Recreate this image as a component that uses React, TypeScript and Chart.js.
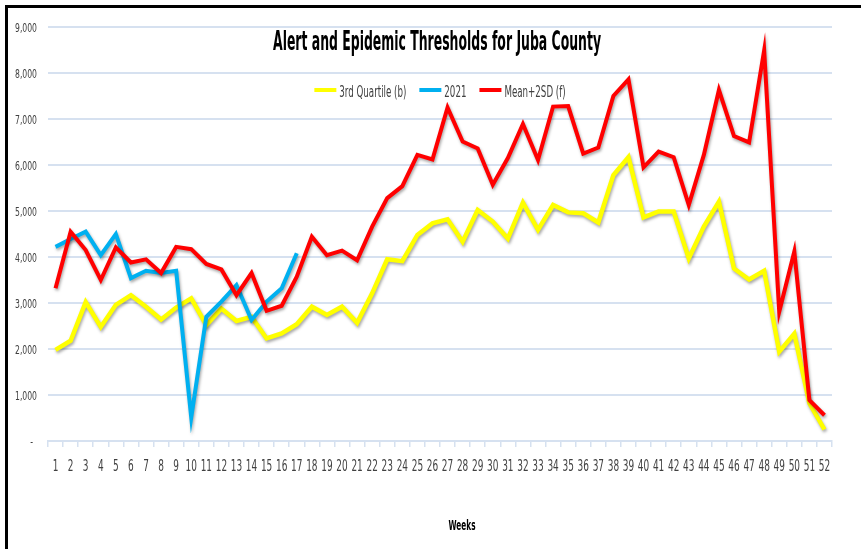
import React, { useEffect, useRef } from "react";
import { Chart, registerables } from "chart.js";

Chart.register(...registerables);

const weeks = [
  "1", "2", "3", "4", "5", "6", "7", "8", "9", "10", "11", "12", "13",
  "14", "15", "16", "17", "18", "19", "20", "21", "22", "23", "24", "25", "26",
  "27", "28", "29", "30", "31", "32", "33", "34", "35", "36", "37", "38", "39",
  "40", "41", "42", "43", "44", "45", "46", "47", "48", "49", "50", "51", "52",
];

const thirdQuartile = [
  1980, 2180, 3020, 2480, 2960, 3170, 2920, 2640, 2900, 3100, 2520, 2880, 2610,
  2700, 2230, 2340, 2540, 2920, 2740, 2920, 2570, 3210, 3950, 3910, 4480, 4730,
  4820, 4330, 5020, 4770, 4400, 5180, 4590, 5130, 4970, 4950, 4750, 5780, 6170,
  4860, 4990, 4990, 3970, 4660, 5200, 3750, 3510, 3700, 1940, 2330, 820, 250,
];

const year2021 = [
  4220, 4390, 4550, 4040, 4500, 3540, 3700, 3650, 3700, 510, 2700, 3030, 3390,
  2630, 3030, 3320, 4080,
];

const meanPlus2SD = [
  3320, 4550, 4150, 3500, 4210, 3880, 3950, 3650, 4220, 4170, 3850, 3730, 3170,
  3650, 2830, 2940, 3570, 4440, 4040, 4140, 3930, 4660, 5280, 5540, 6220, 6120,
  7250, 6510, 6360, 5570, 6150, 6890, 6110, 7270, 7280, 6250, 6380, 7500, 7860,
  5950, 6290, 6170, 5130, 6220, 7630, 6630, 6490, 8490, 2810, 4120, 890, 560,
];

const yTicks = [0, 1000, 2000, 3000, 4000, 5000, 6000, 7000, 8000, 9000];

const seriesNames = ["3rd Quartile (b)", "2021", "Mean+2SD (f)"];
const seriesColors = ["#FFFF00", "#00B0F0", "#FF0000"];
const TITLE = "Alert and Epidemic Thresholds for Juba County";
const X_TITLE = "Weeks";

const FONT = '"Liberation Sans Narrow", "DejaVu Sans Condensed", "Liberation Sans", sans-serif';
const GRID = "#D6E1F0";
const TEXT = "#404040";

function drawSquished(
  ctx: CanvasRenderingContext2D,
  text: string,
  font: string,
  x: number,
  y: number,
  sx: number,
  align: CanvasTextAlign,
  color: string
) {
  ctx.save();
  ctx.font = font;
  ctx.fillStyle = color;
  ctx.textAlign = align;
  ctx.textBaseline = "alphabetic";
  ctx.translate(x, y);
  ctx.scale(sx, 1);
  ctx.fillText(text, 0, 0);
  ctx.restore();
}

function measure(ctx: CanvasRenderingContext2D, text: string, font: string) {
  ctx.save();
  ctx.font = font;
  const w = ctx.measureText(text).width;
  ctx.restore();
  return w;
}

const fmt = (v: number) => (v === 0 ? "-" : v.toLocaleString("en-US"));

const decorPlugin = {
  id: "decor",
  beforeDraw(chart: any) {
    const ctx = chart.ctx;
    ctx.save();
    ctx.fillStyle = "#ffffff";
    ctx.fillRect(0, 0, chart.width, chart.height);
    ctx.restore();
  },
  beforeDatasetDraw(chart: any) {
    const ctx = chart.ctx;
    ctx.save();
    ctx.shadowColor = "rgba(0,0,0,0.35)";
    ctx.shadowBlur = 3;
    ctx.shadowOffsetX = 1;
    ctx.shadowOffsetY = 2;
  },
  afterDatasetDraw(chart: any) {
    chart.ctx.restore();
  },
  afterDraw(chart: any) {
    const ctx = chart.ctx;
    const area = chart.chartArea;
    const cx = (area.left + area.right) / 2;

    // Title
    const titleFont = `bold 27px ${FONT}`;
    const tw = measure(ctx, TITLE, titleFont);
    drawSquished(ctx, TITLE, titleFont, cx - 3, 50, 328 / tw, "center", "#000000");

    // Legend
    const legFont = `15px ${FONT}`;
    const refW = measure(ctx, seriesNames[0], legFont);
    const widths = seriesNames.map((s) => measure(ctx, s, legFont));
    const lsx = 67 / refW;
    const lineLen = 22;
    const gapText = 3;
    const gapItem = 13;
    let total = 0;
    widths.forEach((w, i) => {
      total += lineLen + gapText + w * lsx + (i < widths.length - 1 ? gapItem : 0);
    });
    let x = cx - total / 2;
    const ly = 90;
    seriesNames.forEach((name, i) => {
      ctx.save();
      ctx.strokeStyle = seriesColors[i];
      ctx.lineWidth = 4;
      ctx.beginPath();
      ctx.moveTo(x, ly);
      ctx.lineTo(x + lineLen, ly);
      ctx.stroke();
      ctx.restore();
      x += lineLen + gapText;
      drawSquished(ctx, name, legFont, x, 96.5, lsx, "left", TEXT);
      x += widths[i] * lsx + gapItem;
    });

    // Y tick labels
    const ys = chart.scales.y;
    const yFont = `13px ${FONT}`;
    const ysx = 22 / measure(ctx, "9,000", yFont);
    yTicks.forEach((v) => {
      const py = ys.getPixelForValue(v);
      const label = fmt(v);
      drawSquished(ctx, label, yFont, v === 0 ? 33 : 37, py + 4.5, ysx, "right", TEXT);
    });

    // X tick labels
    const xs = chart.scales.x;
    const tickFont = `16px ${FONT}`;
    weeks.forEach((w, i) => {
      const px = xs.getPixelForTick(i);
      drawSquished(ctx, w, tickFont, px, 471, 0.62, "center", TEXT);
    });

    // X axis title
    const wFont = `bold 14px ${FONT}`;
    const ww = measure(ctx, X_TITLE, wFont);
    drawSquished(ctx, X_TITLE, wFont, cx + 22, 530, 27 / ww, "center", "#000000");

    // Frame
    ctx.save();
    ctx.fillStyle = "#000000";
    ctx.fillRect(5, 5, chart.width - 5, 3);
    ctx.fillRect(5, 5, 3, chart.height - 5);
    ctx.restore();
  },
};

export default function App() {
  const canvasRef = useRef<HTMLCanvasElement | null>(null);

  useEffect(() => {
    const canvas = canvasRef.current;
    if (!canvas) return;
    const chart = new Chart(canvas, {
      type: "line",
      data: {
        labels: weeks,
        datasets: [
          {
            label: seriesNames[0],
            data: thirdQuartile,
            borderColor: seriesColors[0],
            backgroundColor: seriesColors[0],
            borderWidth: 4.5,
            pointRadius: 0,
            tension: 0,
            order: 3,
          },
          {
            label: seriesNames[1],
            data: year2021,
            borderColor: seriesColors[1],
            backgroundColor: seriesColors[1],
            borderWidth: 4,
            pointRadius: 0,
            tension: 0,
            order: 2,
          },
          {
            label: seriesNames[2],
            data: meanPlus2SD,
            borderColor: seriesColors[2],
            backgroundColor: seriesColors[2],
            borderWidth: 4,
            pointRadius: 0,
            tension: 0,
            order: 1,
          },
        ],
      },
      options: {
        responsive: false,
        animation: false,
        devicePixelRatio: 1,
        layout: { padding: { left: 0, top: 27, right: 29, bottom: 0 } },
        plugins: {
          legend: { display: false },
          title: { display: false },
          tooltip: { enabled: false },
        },
        scales: {
          x: {
            type: "category",
            offset: true,
            grid: {
              display: true,
              drawOnChartArea: false,
              drawTicks: true,
              tickLength: 6,
              color: GRID,
              lineWidth: 1.5,
              offset: true,
            },
            border: { display: true, color: GRID, width: 2 },
            ticks: { display: false, autoSkip: false, maxRotation: 0, minRotation: 0 },
            afterFit(scale: any) {
              scale.height = 108;
            },
          },
          y: {
            min: 0,
            max: 9000,
            grid: { color: GRID, lineWidth: 2, drawTicks: false },
            border: { display: false },
            ticks: { stepSize: 1000, display: false },
            afterFit(scale: any) {
              scale.width = 48;
            },
          },
        },
      },
      plugins: [decorPlugin],
    });
    return () => chart.destroy();
  }, []);

  return (
    <div style={{ position: "fixed", left: 0, top: 0, width: 861, height: 549, background: "#fff" }}>
      <canvas ref={canvasRef} width={861} height={549} style={{ display: "block" }} />
    </div>
  );
}
